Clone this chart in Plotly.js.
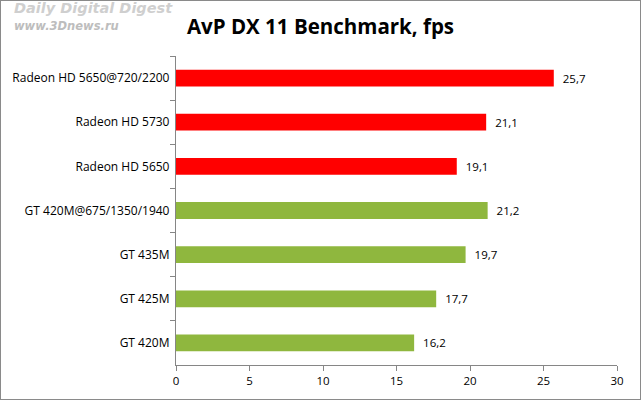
<!DOCTYPE html>
<html>
<head>
<meta charset="utf-8">
<script src="https://cdn.plot.ly/plotly-3.0.1.min.js"></script>
<style>
  body { margin: 0; background: #fff; }
  #frame { width: 641px; height: 400px; box-sizing: border-box; border: 1px solid #8a8a8a; }
</style>
</head>
<body>
<div id="frame"><div id="chart"></div></div>
<script>
const cards = [
  'Radeon HD 5650@720/2200',
  'Radeon HD 5730',
  'Radeon HD 5650',
  'GT 420M@675/1350/1940',
  'GT 435M',
  'GT 425M',
  'GT 420M',
]
const fps = [25.7, 21.1, 19.1, 21.2, 19.7, 17.7, 16.2]
const barColors = ['#ff0000', '#ff0000', '#ff0000', '#8fb73e', '#8fb73e', '#8fb73e', '#8fb73e']
const xTicks = [0, 5, 10, 15, 20, 25, 30]

const font = 'Open Sans, Verdana, sans-serif'

const bars = {
  type: 'bar',
  orientation: 'h',
  x: fps,
  y: cards,
  marker: { color: barColors, line: { width: 0 } },
  texttemplate: '  %{x:.1f}',
  textposition: 'outside',
  textfont: { size: 11.5, color: '#000', family: font },
  cliponaxis: false,
  hoverinfo: 'none',
}

const layout = {
  width: 639,
  height: 398,
  margin: { t: 55, b: 34, l: 175, r: 23 },
  paper_bgcolor: '#fff',
  plot_bgcolor: '#fff',
  separators: ', ',
  bargap: 0.62,
  showlegend: false,
  font: { family: font, size: 12, color: '#000' },
  title: {
    text: '<b>AvP DX 11 Benchmark, fps</b>',
    font: { size: 20.5, family: font, color: '#000' },
    x: 0.5, xanchor: 'center', y: 0.935, yanchor: 'middle',
  },
  xaxis: {
    range: [0, 30],
    tickvals: xTicks,
    ticks: 'outside',
    ticklen: 5,
    tickcolor: '#868686',
    showline: true,
    linecolor: '#868686',
    showgrid: false,
    zeroline: false,
    tickfont: { size: 11.5, color: '#000' },
  },
  yaxis: {
    autorange: 'reversed',
    ticks: 'outside',
    tickson: 'boundaries',
    ticklen: 5,
    tickcolor: '#868686',
    showline: true,
    linecolor: '#868686',
    showgrid: false,
    ticksuffix: ' ',
    tickfont: { size: 12, color: '#000' },
  },
  annotations: [
    {
      text: '<i><b>Daily Digital Digest</b></i>', xref: 'paper', yref: 'paper',
      x: -0.373, y: 1.155, xanchor: 'left', yanchor: 'middle', showarrow: false,
      font: { size: 14.5, color: '#cfcfcf', family: 'DejaVu Sans, Verdana, sans-serif' },
    },
    {
      text: '<i><b>www.3Dnews.ru</b></i>', xref: 'paper', yref: 'paper',
      x: -0.373, y: 1.097, xanchor: 'left', yanchor: 'middle', showarrow: false,
      font: { size: 11.5, color: '#bdbdbd', family: 'DejaVu Sans, Verdana, sans-serif' },
    },
  ],
}

Plotly.newPlot('chart', [bars], layout, { responsive: false, displayModeBar: false })
</script>
</body>
</html>
